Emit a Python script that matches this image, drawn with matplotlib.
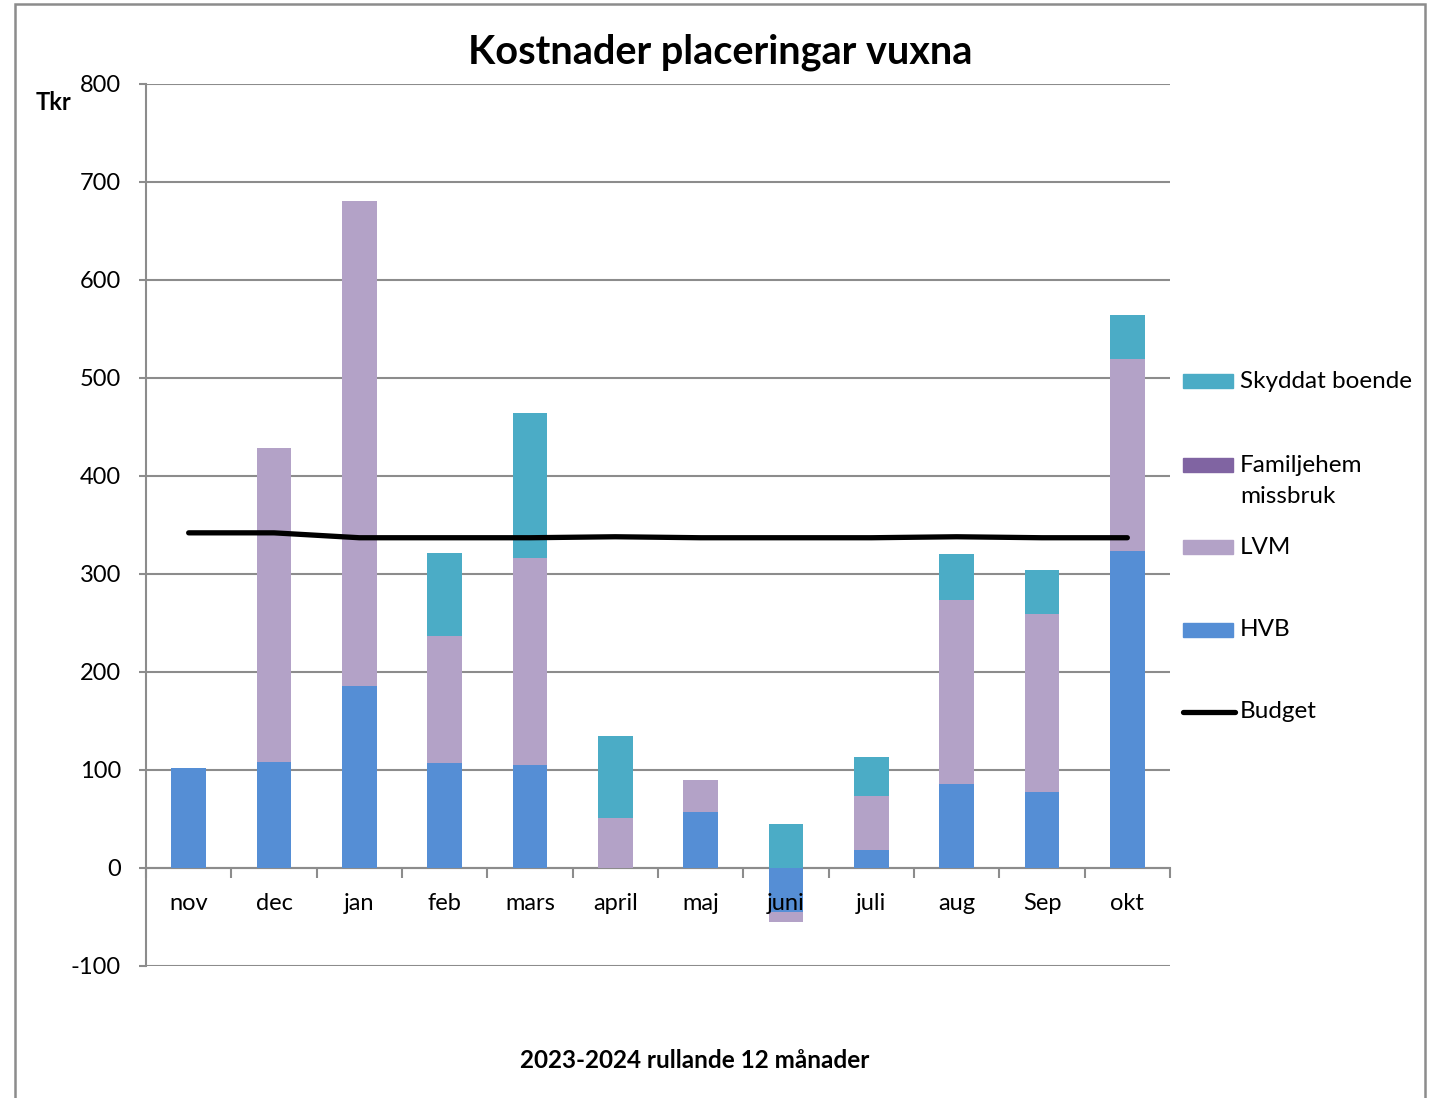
import matplotlib
matplotlib.use("Agg")
import matplotlib.pyplot as plt
from matplotlib.patches import Rectangle
from matplotlib.lines import Line2D
import numpy as np

months = ["nov", "dec", "jan", "feb", "mars", "april", "maj", "juni", "juli", "aug", "Sep", "okt"]
hvb = [102, 108, 186, 107, 105, 0, 57, -45, 18, 86, 78, 323]
lvm = [0, 321, 495, 130, 211, 51, 33, -10, 55, 187, 181, 196]
familjehem = [0, 0, 0, 0, 0, 0, 0, 0, 0, 0, 0, 0]
skyddat = [0, 0, 0, 84, 148, 84, 0, 45, 40, 47, 45, 45]
budget = [342, 342, 337, 337, 337, 338, 337, 337, 337, 338, 337, 337]

series = [("HVB", hvb, "#558ED5"),
          ("LVM", lvm, "#B3A2C7"),
          ("Familjehem\nmissbruk", familjehem, "#8064A2"),
          ("Skyddat boende", skyddat, "#4BACC6")]

plt.rcParams['font.family'] = ['Lato', 'DejaVu Sans']
plt.rcParams['axes.unicode_minus'] = False
W, H = 1437, 1098
fig = plt.figure(figsize=(W / 100, H / 100), dpi=100)
ax = fig.add_axes([146 / W, 1 - 966 / H, (1170 - 146) / W, (966 - 84) / H])

x = np.arange(len(months))
pos_bottom = np.zeros(len(months))
neg_bottom = np.zeros(len(months))
for name, vals, col in series:
    v = np.array(vals, dtype=float)
    bottoms = np.where(v >= 0, pos_bottom, neg_bottom)
    ax.bar(x, v, bottom=bottoms, width=0.41, color=col, zorder=3)
    pos_bottom += np.where(v >= 0, v, 0)
    neg_bottom += np.where(v < 0, v, 0)

ax.plot(x, budget, color="black", lw=3.8, solid_capstyle="round", zorder=4)

ax.set_xlim(-0.5, 11.5)
ax.set_ylim(-100, 800)
ax.set_yticks(np.arange(-100, 801, 100))
ax.yaxis.grid(True, color="#8c8c8c", lw=1.5, zorder=0)
ax.set_axisbelow(True)
for s in ["top", "right"]:
    ax.spines[s].set_visible(False)
ax.spines["left"].set_color("#8c8c8c")
ax.spines["left"].set_linewidth(1.5)
ax.spines["bottom"].set_position(("data", 0))
ax.spines["bottom"].set_color("#8c8c8c")
ax.spines["bottom"].set_linewidth(1.5)
ax.spines["bottom"].set_zorder(2)

ax.tick_params(axis="y", length=5, width=1.5, color="#8c8c8c", pad=13, labelsize=17)
ax.set_xticks(np.arange(-0.5, 12, 1))
ax.set_xticklabels([])
ax.set_xticks(x, minor=True)
ax.set_xticklabels(months, minor=True)
ax.tick_params(axis="x", which="major", length=7, width=1.5, color="#8c8c8c", direction="out")
ax.tick_params(axis="x", which="minor", length=0, pad=18, labelsize=17)
ax.xaxis.set_zorder(5)

fig.text(720 / W, 1 - 52 / H, "Kostnader placeringar vuxna", ha="center", va="center",
         fontsize=28.5, fontweight="bold")
fig.text(695 / W, 1 - 1060 / H, "2023-2024 rullande 12 månader", ha="center", va="center",
         fontsize=17.5, fontweight="bold")
fig.text(36 / W, 1 - 102 / H, "Tkr", ha="left", va="center", fontsize=17, fontweight="bold")

# legend (drawn manually to match layout)
leg = [("Skyddat boende", "#4BACC6", 381, "patch"),
       ("Familjehem\nmissbruk", "#8064A2", 481, "patch"),
       ("LVM", "#B3A2C7", 547, "patch"),
       ("HVB", "#558ED5", 630, "patch"),
       ("Budget", "black", 712, "line")]
for label, col, yc, kind in leg:
    if kind == "patch":
        top = 465 if "\n" in label else yc
        fig.patches.append(Rectangle((1183 / W, 1 - (top + 7) / H), 50 / W, 14 / H,
                                     transform=fig.transFigure, color=col))
        fig.text(1240 / W, 1 - yc / H, label, ha="left", va="center", fontsize=17.5,
                 linespacing=1.55)
    else:
        fig.lines.append(Line2D([1183 / W, 1235 / W], [1 - yc / H, 1 - yc / H],
                                transform=fig.transFigure, color=col, lw=3.8,
                                solid_capstyle="round"))
        fig.text(1240 / W, 1 - yc / H, label, ha="left", va="center", fontsize=17.5)

fig.patches.append(Rectangle((15 / W, -0.01), (1425 - 15) / W, 1.01 - 4 / H,
                             transform=fig.transFigure, fill=False,
                             edgecolor="#8c8c8c", lw=1.8))

fig.savefig("out.png", dpi=100)
